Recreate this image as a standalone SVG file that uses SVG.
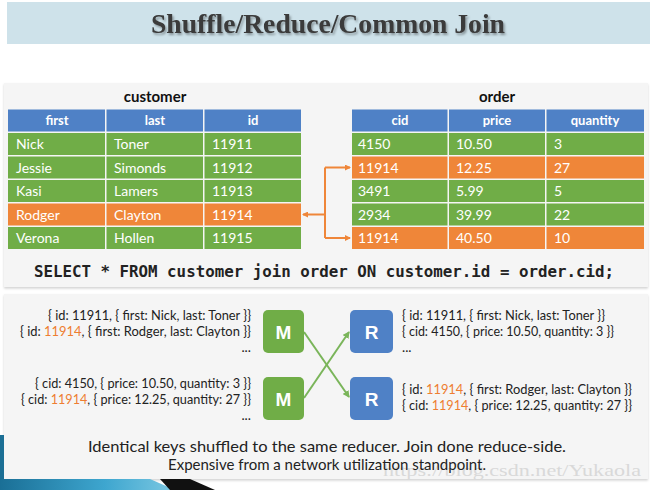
<svg xmlns="http://www.w3.org/2000/svg" width="650" height="490" viewBox="0 0 650 490">
<defs>
<style>
.cell{font-family:Lato,"Liberation Sans",sans-serif;font-size:14px;fill:#ffffff}
.hdr{font-family:Lato,"Liberation Sans",sans-serif;font-size:13px;font-weight:bold;fill:#ffffff;text-anchor:middle}
.tt{font-family:Lato,"Liberation Sans",sans-serif;font-size:15px;font-weight:bold;fill:#111111;text-anchor:middle}
.kv{font-family:Lato,"Liberation Sans",sans-serif;font-size:13.5px;fill:#222222}
.hi{fill:#ee7d31}
.box{font-family:"Liberation Sans",Arial,sans-serif;font-size:19px;font-weight:bold;fill:#ffffff;text-anchor:middle}
.note{font-family:Lato,"Liberation Sans",sans-serif;font-size:15px;fill:#222222;text-anchor:middle}
.blue{fill:#4f81c6}
.green{fill:#70ad47}
.orange{fill:#ef8639}
</style>
<filter id="sh" x="-10%" y="-30%" width="120%" height="160%">
<feDropShadow dx="1.5" dy="2" stdDeviation="1" flood-color="#000" flood-opacity="0.35"/>
</filter>
<filter id="psh" x="-5%" y="-5%" width="110%" height="115%">
<feDropShadow dx="0" dy="1.5" stdDeviation="1.2" flood-color="#000" flood-opacity="0.18"/>
</filter>
<marker id="ao" markerWidth="6" markerHeight="6" refX="5" refY="3" orient="auto" markerUnits="userSpaceOnUse">
<path d="M0,0 L6,3 L0,6 z" fill="#ef8639"/>
</marker>
<marker id="ag" markerWidth="7" markerHeight="7" refX="6" refY="3.5" orient="auto" markerUnits="userSpaceOnUse">
<path d="M0,0 L7,3.5 L0,7 z" fill="#7ab55a"/>
</marker>
<linearGradient id="teal" x1="0" y1="0" x2="1" y2="0">
<stop offset="0" stop-color="#1a6f96"/>
<stop offset="0.6" stop-color="#3ea6cf"/>
<stop offset="1" stop-color="#7cc8e2"/>
</linearGradient>
</defs>
<rect width="650" height="490" fill="#ffffff"/>

<g id="title">
<rect x="7" y="2" width="643" height="42" fill="#cee2ea"/>
<text x="328" y="33" text-anchor="middle" font-family="'Liberation Serif','Times New Roman',serif" font-size="28" font-weight="bold" fill="#3a3a3a" textLength="354" lengthAdjust="spacingAndGlyphs" filter="url(#sh)">Shuffle/Reduce/Common Join</text>
</g>

<g id="panels">
<rect x="4" y="83" width="644" height="204" fill="#f5f5f5" filter="url(#psh)"/>
<rect x="4" y="294" width="644" height="185" fill="#f5f5f5" filter="url(#psh)"/>
</g>

<g id="customer">
<text class="tt" x="155" y="102">customer</text>
<rect class="blue" x="8" y="109.5" width="97" height="22"/>
<rect class="blue" x="106.5" y="109.5" width="96.5" height="22"/>
<rect class="blue" x="204.5" y="109.5" width="96.5" height="22"/>
<text class="hdr" x="57" y="125">first</text>
<text class="hdr" x="155" y="125">last</text>
<text class="hdr" x="253" y="125">id</text>
<g>
<rect class="green" x="8" y="133" width="97" height="22"/><rect class="green" x="106.5" y="133" width="96.5" height="22"/><rect class="green" x="204.5" y="133" width="96.5" height="22"/>
<text class="cell" x="16" y="149">Nick</text><text class="cell" x="114" y="149">Toner</text><text class="cell" x="212" y="149">11911</text>
</g>
<g>
<rect class="green" x="8" y="156.5" width="97" height="22"/><rect class="green" x="106.5" y="156.5" width="96.5" height="22"/><rect class="green" x="204.5" y="156.5" width="96.5" height="22"/>
<text class="cell" x="16" y="172.5">Jessie</text><text class="cell" x="114" y="172.5">Simonds</text><text class="cell" x="212" y="172.5">11912</text>
</g>
<g>
<rect class="green" x="8" y="180" width="97" height="22"/><rect class="green" x="106.5" y="180" width="96.5" height="22"/><rect class="green" x="204.5" y="180" width="96.5" height="22"/>
<text class="cell" x="16" y="196">Kasi</text><text class="cell" x="114" y="196">Lamers</text><text class="cell" x="212" y="196">11913</text>
</g>
<g>
<rect class="orange" x="8" y="203.5" width="97" height="22"/><rect class="orange" x="106.5" y="203.5" width="96.5" height="22"/><rect class="orange" x="204.5" y="203.5" width="96.5" height="22"/>
<text class="cell" x="16" y="219.5">Rodger</text><text class="cell" x="114" y="219.5">Clayton</text><text class="cell" x="212" y="219.5">11914</text>
</g>
<g>
<rect class="green" x="8" y="227" width="97" height="22"/><rect class="green" x="106.5" y="227" width="96.5" height="22"/><rect class="green" x="204.5" y="227" width="96.5" height="22"/>
<text class="cell" x="16" y="243">Verona</text><text class="cell" x="114" y="243">Hollen</text><text class="cell" x="212" y="243">11915</text>
</g>
</g>

<g id="order">
<text class="tt" x="497" y="102">order</text>
<rect class="blue" x="352" y="109.5" width="95.5" height="22"/>
<rect class="blue" x="449" y="109.5" width="96" height="22"/>
<rect class="blue" x="546.5" y="109.5" width="97.5" height="22"/>
<text class="hdr" x="400" y="125">cid</text>
<text class="hdr" x="497" y="125">price</text>
<text class="hdr" x="595" y="125">quantity</text>
<g>
<rect class="green" x="352" y="133" width="95.5" height="22"/><rect class="green" x="449" y="133" width="96" height="22"/><rect class="green" x="546.5" y="133" width="97.5" height="22"/>
<text class="cell" x="358" y="149">4150</text><text class="cell" x="456" y="149">10.50</text><text class="cell" x="554" y="149">3</text>
</g>
<g>
<rect class="orange" x="352" y="156.5" width="95.5" height="22"/><rect class="orange" x="449" y="156.5" width="96" height="22"/><rect class="orange" x="546.5" y="156.5" width="97.5" height="22"/>
<text class="cell" x="358" y="172.5">11914</text><text class="cell" x="456" y="172.5">12.25</text><text class="cell" x="554" y="172.5">27</text>
</g>
<g>
<rect class="green" x="352" y="180" width="95.5" height="22"/><rect class="green" x="449" y="180" width="96" height="22"/><rect class="green" x="546.5" y="180" width="97.5" height="22"/>
<text class="cell" x="358" y="196">3491</text><text class="cell" x="456" y="196">5.99</text><text class="cell" x="554" y="196">5</text>
</g>
<g>
<rect class="green" x="352" y="203.5" width="95.5" height="22"/><rect class="green" x="449" y="203.5" width="96" height="22"/><rect class="green" x="546.5" y="203.5" width="97.5" height="22"/>
<text class="cell" x="358" y="219.5">2934</text><text class="cell" x="456" y="219.5">39.99</text><text class="cell" x="554" y="219.5">22</text>
</g>
<g>
<rect class="orange" x="352" y="227" width="95.5" height="22"/><rect class="orange" x="449" y="227" width="96" height="22"/><rect class="orange" x="546.5" y="227" width="97.5" height="22"/>
<text class="cell" x="358" y="243">11914</text><text class="cell" x="456" y="243">40.50</text><text class="cell" x="554" y="243">10</text>
</g>
</g>

<g id="query">
<text x="324" y="277" text-anchor="middle" font-family="'DejaVu Sans Mono','Liberation Mono',monospace" font-size="15" font-weight="bold" fill="#222222" textLength="580" lengthAdjust="spacingAndGlyphs">SELECT * FROM customer join order ON customer.id = order.cid;</text>
</g>

<g id="connectors">
<g fill="none" stroke="#ef8639" stroke-width="2">
<path d="M325,167.5 L325,238"/>
<path d="M325,167.5 L350,167.5" marker-end="url(#ao)"/>
<path d="M325,238 L350,238" marker-end="url(#ao)"/>
<path d="M325,214.5 L303,214.5" marker-end="url(#ao)"/>
</g>
<g fill="none" stroke="#7ab55a" stroke-width="2">
<path d="M304,332 L349,397" marker-end="url(#ag)"/>
<path d="M304,398 L349,332" marker-end="url(#ag)"/>
</g>
</g>

<g id="m1"><rect x="263" y="310" width="41" height="43" rx="5" fill="#70ad47"/><text class="box" x="283.5" y="338.5">M</text></g>
<g id="m2"><rect x="263" y="377" width="41" height="43" rx="5" fill="#70ad47"/><text class="box" x="283.5" y="405.5">M</text></g>
<g id="r1"><rect x="350" y="310" width="43" height="43" rx="5" fill="#4f81c6"/><text class="box" x="371.5" y="338.5">R</text></g>
<g id="r2"><rect x="350" y="377" width="43" height="43" rx="5" fill="#4f81c6"/><text class="box" x="371.5" y="405.5">R</text></g>

<g id="map-input" text-anchor="end">
<text class="kv" x="251" y="320" textLength="203" lengthAdjust="spacingAndGlyphs">{ id: 11911, { first: Nick, last: Toner }}</text>
<text class="kv" x="251" y="336" textLength="231" lengthAdjust="spacingAndGlyphs">{ id: <tspan class="hi">11914</tspan>, { first: Rodger, last: Clayton }}</text>
<text class="kv" x="251" y="352">...</text>
<text class="kv" x="251" y="388" textLength="216" lengthAdjust="spacingAndGlyphs">{ cid: 4150, { price: 10.50, quantity: 3 }}</text>
<text class="kv" x="251" y="404" textLength="230" lengthAdjust="spacingAndGlyphs">{ cid: <tspan class="hi">11914</tspan>, { price: 12.25, quantity: 27 }}</text>
<text class="kv" x="251" y="420">...</text>
</g>

<g id="reduce-output">
<text class="kv" x="402" y="320" textLength="203" lengthAdjust="spacingAndGlyphs">{ id: 11911, { first: Nick, last: Toner }}</text>
<text class="kv" x="402" y="336" textLength="212" lengthAdjust="spacingAndGlyphs">{ cid: 4150, { price: 10.50, quantity: 3 }}</text>
<text class="kv" x="402" y="352">...</text>
<text class="kv" x="402" y="394" textLength="230" lengthAdjust="spacingAndGlyphs">{ id: <tspan class="hi">11914</tspan>, { first: Rodger, last: Clayton }}</text>
<text class="kv" x="402" y="410" textLength="230" lengthAdjust="spacingAndGlyphs">{ cid: <tspan class="hi">11914</tspan>, { price: 12.25, quantity: 27 }}</text>
</g>

<g id="decoration">
<rect x="0" y="435" width="4" height="55" fill="#1c6f95"/>
<path d="M0,479 L150,479 L175,490 L0,490 z" fill="url(#teal)"/>
<path d="M160,479 L190,479 L215,490 L170,490 z" fill="#111111"/>
</g>

<g id="watermark">
<text x="383" y="476" font-family="'Liberation Serif',serif" font-size="17" fill="#d9d9d9" textLength="258" lengthAdjust="spacingAndGlyphs">https://blog.csdn.net/Yukaola</text>
</g>

<g id="caption">
<text class="note" x="327" y="452" textLength="478" lengthAdjust="spacingAndGlyphs">Identical keys shuffled to the same reducer. Join done reduce-side.</text>
<text class="note" x="327" y="470">Expensive from a network utilization standpoint.</text>
</g>
</svg>
